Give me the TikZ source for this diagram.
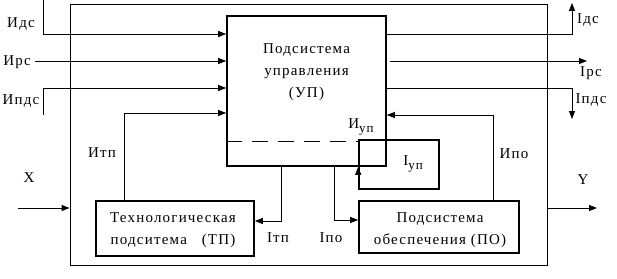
\documentclass[tikz,border=0pt]{standalone}
\usepackage{fontspec}
\setmainfont{Liberation Serif}[LetterSpace=8]
\usetikzlibrary{arrows.meta}
\newcommand{\lowidx}[1]{\raisebox{-4pt}{\fontsize{13}{13}\selectfont #1}}

\begin{document}
\begin{tikzpicture}[x=1pt, y=-1pt,
    sysbox/.style={rectangle, draw=black, line width=1.6pt, inner sep=0pt},
    frame/.style={rectangle, draw=black, line width=0.9pt, inner sep=0pt},
    arrow/.style={-{Triangle[length=8pt, width=6pt]}, line width=0.9pt},
    link/.style={line width=0.9pt},
    lbl/.style={font=\fontsize{15}{22}\selectfont, inner sep=0pt, align=center}
]
    \useasboundingbox (0,0) rectangle (617,278);

    % outer frame and subsystems
    \node [frame, minimum width=477pt, minimum height=260.5pt] (sys) at (308.5,134.75) {};
    \node [sysbox, minimum width=159pt, minimum height=150pt] (up) at (306.5,91) {};
    \node [sysbox, minimum width=80pt, minimum height=49pt] (iup) at (399,164.5) {};
    \node [sysbox, minimum width=158pt, minimum height=55pt] (tp) at (175,228.5) {};
    \node [sysbox, minimum width=160pt, minimum height=52pt] (po) at (439,227) {};
    \draw [link, dash pattern=on 16pt off 10pt] (up.west |- 0,141) -- (359,141);

    % box texts
    \node [lbl] (uptext) at (306.5,72) {Подсистема\\управления\\(УП)};
    \node [lbl] (tptext) at (173,230) {Технологическая\\подситема\ \ \ (ТП)};
    \node [lbl] (potext) at (440,230) {Подсистема\\обеспечения (ПО)};

    % free ends
    \coordinate (idcS) at (43,0);
    \coordinate (ircS) at (35,61);
    \coordinate (ipdcS) at (43,115);
    \coordinate (idcE) at (572,3);
    \coordinate (ircE) at (587,61);
    \coordinate (ipdcE) at (572,119);
    \coordinate (xS) at (18,208);
    \coordinate (yE) at (597,208);

    % inputs of УП
    \draw [arrow] (idcS) |- (up.west |- 0,34);
    \draw [arrow] (ircS) -- (up.west |- 0,61);
    \draw [arrow] (ipdcS) |- (up.west |- 0,88);
    \draw [arrow] (tp.north -| 124,0) |- (up.west |- 0,113);
    \draw [arrow] (po.north -| 493,0) |- (up.east |- 0,115);

    % outputs of УП
    \draw [arrow] (up.east |- 0,34) -| (idcE);
    \draw [arrow] ([xshift=3pt]up.east |- 0,61) -- (ircE);
    \draw [arrow] (up.east |- 0,88) -| (ipdcE);
    \draw [arrow] (up.south -| 281,0) |- (tp.east |- 0,221);
    \draw [arrow] (up.south -| 334,0) |- (po.west |- 0,220);
    \draw [arrow] (iup.south west) -- (iup.west |- up.south);

    % X and Y
    \draw [arrow] (xS) -- (sys.west |- xS);
    \draw [arrow] (sys.east |- yE) -- (yE);

    % labels
    \node [lbl] (lidc) at (21,24) {Идс};
    \node [lbl] (lirc) at (17,62) {Ирс};
    \node [lbl] (lipdc) at (21,101) {Ипдс};
    \node [lbl] (litp) at (102,153) {Итп};
    \node [lbl] (lx) at (29,178) {X};
    \node [lbl] (lItp) at (278,238) {Iтп};
    \node [lbl] (lIpo) at (331,238) {Iпо};
    \node [lbl] (lipo) at (514,154) {Ипо};
    \node [lbl] (ly) at (583,180) {Y};
    \node [lbl] (lIup) at (413,164) {I\lowidx{уп}};
    \node [lbl] (liup) at (361,127) {И\lowidx{уп}};
    \node [lbl] (lIdc) at (588,20) {Iдс};
    \node [lbl] (lIrc) at (591,73) {Iрс};
    \node [lbl] (lIpdc) at (591,100) {Iпдс};
\end{tikzpicture}
\end{document}
